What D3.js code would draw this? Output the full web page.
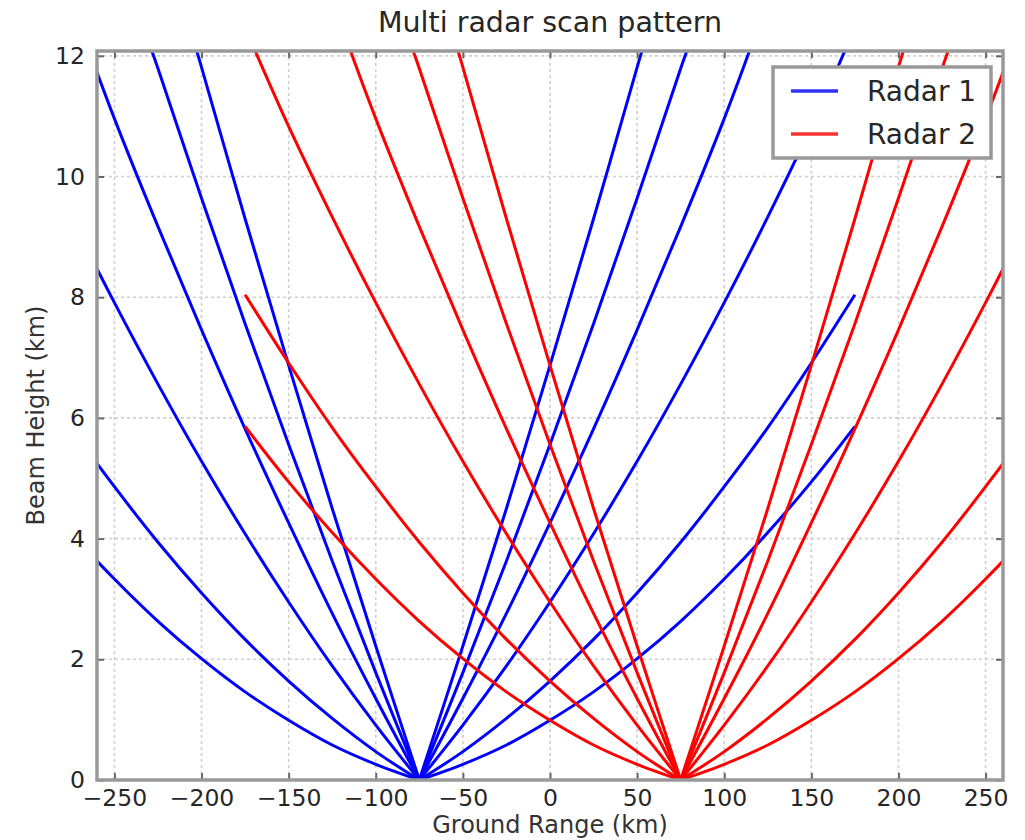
<!DOCTYPE html>
<html>
<head>
<meta charset="utf-8">
<title>Multi radar scan pattern</title>
<script src="https://cdn.jsdelivr.net/npm/d3@7"></script>
<style>
body {margin:0; background:white;}
svg {display:block; font-family:"DejaVu Sans", sans-serif;}
.grid line {stroke:#cfcfcf; stroke-width:1.6; stroke-dasharray:3,3;}
.axis path {display:none;}
.axis line {stroke:#666; stroke-width:2;}
.axis text {fill:#262626; font-size:23.5px; font-family:"DejaVu Sans", sans-serif;}
</style>
</head>
<body>
<svg width="1025" height="840"></svg>
<script>
// radar sites on the ground range axis (km)
var sites = [-75, 75];
var radarNames = ["Radar 1", "Radar 2"];

// beam centre heights: [distance from site (km), height (km)]
var beam05 = [[0,0],[25,0.26],[50,0.58],[75,0.99],[100,1.46],[125,2.01],[150,2.63],[175,3.33],[200,4.10],[225,4.94],[250,5.86]];
var beam10 = [[0,0],[25,0.47],[50,1.02],[75,1.64],[100,2.33],[125,3.10],[150,3.94],[175,4.86],[200,5.84],[225,6.91],[250,8.04]];
var beam20 = [[0,0],[25,0.91],[50,1.89],[75,2.95],[100,4.08],[125,5.28],[150,6.56],[175,7.91],[200,9.33],[225,10.83],[246,12.2]];
var beam30 = [[0,0],[25,1.35],[50,2.76],[75,4.26],[100,5.82],[125,7.46],[150,9.17],[175,10.96],[191,12.2]];
var beam40 = [[0,0],[25,1.78],[50,3.63],[75,5.56],[100,7.56],[125,9.64],[150,11.79],[155,12.2]];
var beam50 = [[0,0],[25,2.22],[50,4.50],[75,6.87],[100,9.30],[125,11.81],[129,12.2]];
var beams = [beam05, beam10, beam20, beam30, beam40, beam50];

var xTicks = [-250, -200, -150, -100, -50, 0, 50, 100, 150, 200, 250];
var yTicks = [0, 2, 4, 6, 8, 10, 12];

var colors = ["#0000ff", "#ff0000"];

var pLeft = 97, pRight = 1003, pTop = 51, pBottom = 780;
var svg = d3.select("svg");

var x = d3.scaleLinear().domain([-260, 260]).range([pLeft, pRight]);
var y = d3.scaleLinear().domain([0, 12.08]).range([pBottom, pTop]);

svg.append("defs").append("clipPath").attr("id", "plotclip")
  .append("rect")
  .attr("x", pLeft).attr("y", pTop)
  .attr("width", pRight - pLeft).attr("height", pBottom - pTop);

// dotted grid
var grid = svg.append("g").attr("class", "grid");
grid.selectAll(".gx").data(xTicks).enter().append("line")
  .attr("x1", function(d) {return x(d);}).attr("x2", function(d) {return x(d);})
  .attr("y1", pTop).attr("y2", pBottom);
grid.selectAll(".gy").data(yTicks).enter().append("line")
  .attr("y1", function(d) {return y(d);}).attr("y2", function(d) {return y(d);})
  .attr("x1", pLeft).attr("x2", pRight);

// beams, both sides of each radar
var plot = svg.append("g").attr("clip-path", "url(#plotclip)");
sites.forEach(function(site, i) {
  [-1, 1].forEach(function(side) {
    var line = d3.line()
      .x(function(p) {return x(site + side * p[0]);})
      .y(function(p) {return y(p[1]);})
      .curve(d3.curveCatmullRom);
    plot.selectAll(null).data(beams).enter().append("path")
      .attr("d", line)
      .attr("fill", "none")
      .attr("stroke", colors[i])
      .attr("stroke-width", 3);
  });
});

// axes with inward ticks
var fmt = function(d) {return d < 0 ? "\u2212" + Math.abs(d) : d;};
svg.append("g").attr("class", "axis")
  .attr("transform", "translate(0," + pBottom + ")")
  .call(d3.axisBottom(x).tickValues(xTicks).tickFormat(fmt).tickSizeInner(-7).tickSizeOuter(0).tickPadding(9));
svg.append("g").attr("class", "axis")
  .attr("transform", "translate(" + pLeft + ",0)")
  .call(d3.axisLeft(y).tickValues(yTicks).tickSizeInner(-7).tickSizeOuter(0).tickPadding(12));
svg.append("g").attr("class", "axis")
  .attr("transform", "translate(0," + pTop + ")")
  .call(d3.axisTop(x).tickValues(xTicks).tickFormat("").tickSizeInner(-7).tickSizeOuter(0));
svg.append("g").attr("class", "axis")
  .attr("transform", "translate(" + pRight + ",0)")
  .call(d3.axisRight(y).tickValues(yTicks).tickFormat("").tickSizeInner(-7).tickSizeOuter(0));

// frame
svg.append("rect")
  .attr("x", pLeft).attr("y", pTop)
  .attr("width", pRight - pLeft).attr("height", pBottom - pTop)
  .attr("fill", "none").attr("stroke", "#999").attr("stroke-width", 3.5);

// legend
var lg = svg.append("g");
lg.append("rect")
  .attr("x", 773).attr("y", 67).attr("width", 218).attr("height", 91)
  .attr("fill", "white").attr("stroke", "#999").attr("stroke-width", 3.5);
radarNames.forEach(function(name, i) {
  lg.append("line")
    .attr("x1", 791).attr("x2", 838)
    .attr("y1", 91 + i * 43).attr("y2", 91 + i * 43)
    .attr("stroke", colors[i]).attr("stroke-width", 3.5).attr("opacity", 0.8);
  lg.append("text")
    .attr("x", 867).attr("y", 101 + i * 43)
    .style("font-size", "28px").attr("fill", "#262626")
    .text(name);
});

// titles
svg.append("text")
  .attr("x", (pLeft + pRight) / 2).attr("y", 32)
  .attr("text-anchor", "middle")
  .style("font-size", "28.5px").attr("fill", "#262626")
  .text("Multi radar scan pattern");
svg.append("text")
  .attr("x", (pLeft + pRight) / 2).attr("y", 833)
  .attr("text-anchor", "middle")
  .style("font-size", "24px").attr("fill", "#333")
  .text("Ground Range (km)");
svg.append("text")
  .attr("transform", "translate(44," + (pTop + pBottom) / 2 + ") rotate(-90)")
  .attr("text-anchor", "middle")
  .style("font-size", "24px").attr("fill", "#333")
  .text("Beam Height (km)");
</script>
</body>
</html>
